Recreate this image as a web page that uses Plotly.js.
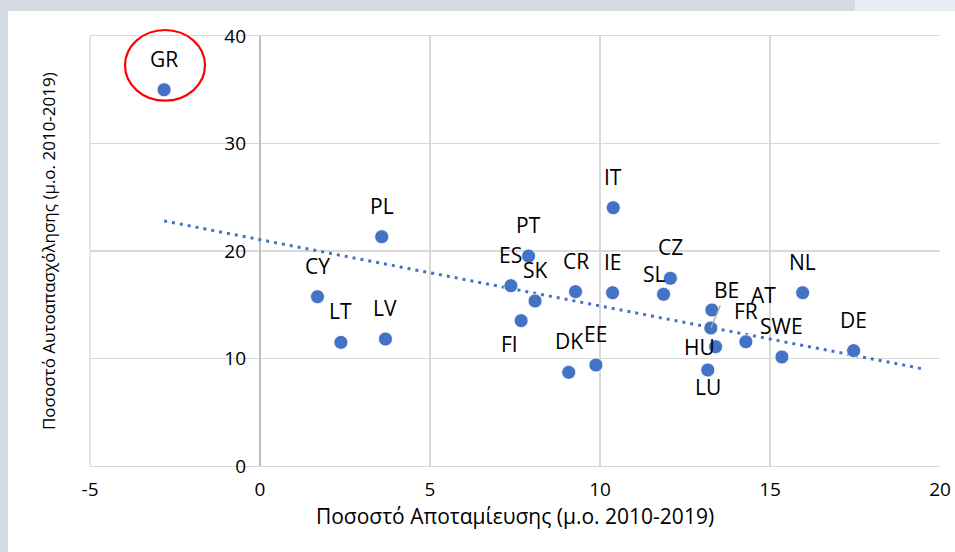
<!DOCTYPE html>
<html>
<head>
<meta charset="utf-8">
<script src="https://cdn.plot.ly/plotly-3.0.1.min.js"></script>
<style>
  html, body { margin: 0; padding: 0; width: 955px; height: 552px; overflow: hidden; background: #d3dae2; }
  #strip { position: absolute; left: 855px; top: 0; width: 100px; height: 11px; background: #e7ecf5; }
  #chart { position: absolute; left: 8px; top: 11px; width: 947px; height: 541px; background: #ffffff; }
</style>
</head>
<body>
<div id="strip"></div>
<div id="chart"></div>
<script>
// Countries (labels)
const countries = ["GR","CY","LT","PL","LV","ES","FI","PT","SK","DK","CR","EE","IE","IT","SL","CZ","LU","BE","AT","HU","FR","SWE","NL","DE"];
// Saving rate (avg 2010-2019)
const savingRate = [-2.82,1.69,2.38,3.58,3.69,7.38,7.68,7.90,8.09,9.08,9.28,9.88,10.37,10.39,11.87,12.07,13.17,13.26,13.29,13.40,14.29,15.35,15.96,17.46];
// Self-employment rate (avg 2010-2019)
const selfEmployment = [35.0,15.75,11.5,21.33,11.81,16.77,13.52,19.53,15.35,8.71,16.22,9.40,16.12,24.03,15.97,17.46,8.93,12.84,14.51,11.10,11.56,10.14,16.12,10.73];

const xTicks = [-5,0,5,10,15,20];
const yTicks = [0,10,20,30,40];

// label offsets (pixels: [xshift, yshift]) — styling only
const labelShift = { FI:[-12,-23], SL:[-9,20], HU:[-16,0], LU:[0,-17], AT:[52,15] };

// Linear trendline (least squares), extended forward 2 units like Excel
const n = savingRate.length;
const mx = savingRate.reduce((a,b)=>a+b,0)/n;
const my = selfEmployment.reduce((a,b)=>a+b,0)/n;
let sxy=0, sxx=0;
for (let i=0;i<n;i++){ sxy+=(savingRate[i]-mx)*(selfEmployment[i]-my); sxx+=(savingRate[i]-mx)**2; }
const slope = sxy/sxx, intercept = my - slope*mx;
const tx0 = Math.min(...savingRate), tx1 = Math.max(...savingRate) + 2;

const FONT = "'Open Sans', Lato, sans-serif";
const blue = "#4472C4";

const traces = [
  {
    x: [tx0, tx1], y: [intercept + slope*tx0, intercept + slope*tx1],
    mode: "lines", type: "scatter",
    line: { color: blue, width: 3, dash: "3px,5px" },
    hoverinfo: "skip", showlegend: false
  },
  {
    x: savingRate, y: selfEmployment, text: countries,
    mode: "markers", type: "scatter",
    marker: { color: blue, size: 14, line: { color: "#ffffff", width: 0.8 } },
    showlegend: false, cliponaxis: false
  }
];

const LBL = { family: FONT, size: 21, color: "#000" };
const annotations = countries.map((c,i) => {
  if (c === "BE") {
    return { x: savingRate[i], y: selfEmployment[i], xref: "x", yref: "y", text: c,
      showarrow: true, arrowhead: 0, arrowwidth: 1.3, arrowcolor: "#a6a6a6", ax: 16, ay: -38, standoff: 0,
      font: LBL };
  }
  const s = labelShift[c] || [0, 31];
  return { x: savingRate[i], y: selfEmployment[i], xref: "x", yref: "y", text: c, showarrow: false,
    xshift: s[0], yshift: s[1], font: LBL };
});

annotations.push({
  xref: "paper", yref: "paper", x: -0.0494, y: 0.5, xanchor: "center", yanchor: "middle",
  text: "Ποσοστό Αυτοαπασχόλησης (μ.ο. 2010-2019)", textangle: -90, showarrow: false,
  font: { family: FONT, size: 17, color: "#000" }
});

const layout = {
  width: 947, height: 541,
  margin: { l: 82, r: 15, t: 25, b: 86 },
  paper_bgcolor: "#ffffff", plot_bgcolor: "#ffffff",
  font: { family: FONT, color: "#000" },
  showlegend: false,
  xaxis: {
    range: [-5, 20], tickvals: xTicks, ticktext: xTicks.map(String),
    showgrid: true, gridcolor: "#d9d9d9", gridwidth: 1.3,
    zeroline: true, zerolinecolor: "#bfbfbf", zerolinewidth: 1.5,
    showline: true, mirror: true, linecolor: "#d9d9d9", linewidth: 1.3,
    ticks: "", ticklabelstandoff: 6,
    tickfont: { family: FONT, size: 19, color: "#000" },
    title: { text: "Ποσοστό Αποταμίευσης (μ.ο. 2010-2019)", font: { family: FONT, size: 21, color: "#000" }, standoff: 7 }
  },
  yaxis: {
    range: [0, 40], tickvals: yTicks, ticktext: yTicks.map(String),
    anchor: "free", position: 0.2,
    showgrid: true, gridcolor: "#d9d9d9", gridwidth: 1.3,
    zeroline: true, zerolinecolor: "#bfbfbf", zerolinewidth: 1.5,
    showline: false, ticks: "", ticklabelstandoff: 14,
    tickfont: { family: FONT, size: 19, color: "#000" }
  },
  shapes: [
    { type: "line", xref: "paper", yref: "paper", x0: 0, x1: 0, y0: 0, y1: 1, line: { color: "#d9d9d9", width: 1.3 } },
    { type: "circle", xref: "paper", yref: "paper", x0: 0.0412, x1: 0.1353, y0: 0.8495, y1: 1.014,
      line: { color: "#ff0000", width: 2.2 } }
  ],
  annotations: annotations
};

Plotly.newPlot("chart", traces, layout, { displayModeBar: false, staticPlot: true });
</script>
</body>
</html>
